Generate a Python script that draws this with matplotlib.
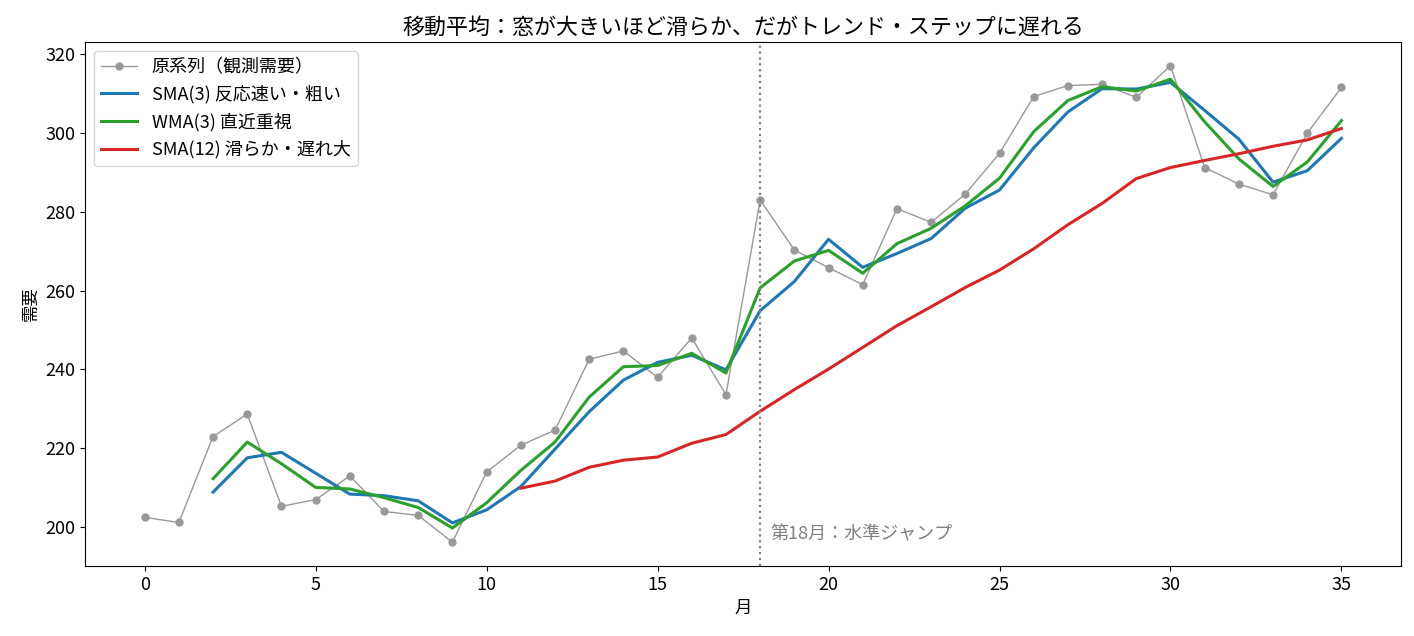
import matplotlib
matplotlib.use("Agg")
import matplotlib.pyplot as plt

plt.rcParams['font.family'] = ['Noto Sans CJK JP', 'DejaVu Sans']

# 月 (0..35)
months = list(range(36))

# 原系列（観測需要）
raw = [202.5, 201.2, 223.0, 228.7, 205.3, 207.0, 213.0, 204.0, 203.0, 196.2,
       214.0, 220.8, 224.6, 242.6, 244.7, 238.0, 248.0, 233.6, 283.0, 270.3,
       265.8, 261.5, 280.8, 277.3, 284.5, 294.8, 309.2, 312.0, 312.3, 309.0,
       317.0, 291.2, 287.0, 284.3, 299.9, 311.5]

# SMA(3), 月2から
sma3_x = list(range(2, 36))
sma3 = [208.9, 217.6, 219.0, 213.7, 208.4, 208.0, 206.7, 201.1, 204.4, 210.3,
        219.8, 229.3, 237.3, 241.8, 243.6, 239.9, 254.9, 262.3, 273.0, 265.9,
        269.4, 273.2, 280.9, 285.5, 296.2, 305.3, 311.2, 311.1, 312.8, 305.7,
        298.4, 287.5, 290.4, 298.6]

# WMA(3), 月2から
wma3_x = list(range(2, 36))
wma3 = [212.3, 221.6, 216.1, 210.1, 209.7, 207.5, 205.0, 199.8, 206.2, 214.4,
        221.6, 233.0, 240.7, 241.0, 244.1, 239.1, 260.7, 267.5, 270.2, 264.4,
        271.9, 275.8, 281.5, 288.5, 300.3, 308.2, 311.7, 310.6, 313.6, 302.8,
        293.4, 286.4, 292.6, 303.1]

# SMA(12), 月11から
sma12_x = list(range(11, 36))
sma12 = [209.9, 211.7, 215.2, 217.0, 217.8, 221.3, 223.5, 229.4, 234.9, 240.1,
         245.6, 251.1, 255.9, 260.8, 265.2, 270.6, 276.7, 282.1, 288.4, 291.2,
         293.0, 294.7, 296.6, 298.2, 301.1]

jump_month = 18

fig, ax = plt.subplots(figsize=(14.14, 6.36), dpi=100)
fig.subplots_adjust(left=0.060, right=0.991, top=0.934, bottom=0.110)

ax.plot(months, raw, marker='o', markersize=5, linewidth=1, color='#999999',
        label='原系列（観測需要）')
ax.plot(sma3_x, sma3, linewidth=2.2, color='#1f77b4', label='SMA(3) 反応速い・粗い')
ax.plot(wma3_x, wma3, linewidth=2.2, color='#2ca02c', label='WMA(3) 直近重視')
ax.plot(sma12_x, sma12, linewidth=2.2, color='#d62728', label='SMA(12) 滑らか・遅れ大')

ax.axvline(jump_month, color='gray', linestyle=':', linewidth=1.6)
ax.text(jump_month + 0.3, 196, '第18月：水準ジャンプ', color='gray', fontsize=13,
        va='bottom')

ax.set_title('移動平均：窓が大きいほど滑らか、だがトレンド・ステップに遅れる', fontsize=15.8)
ax.set_xlabel('月', fontsize=12.5)
ax.set_ylabel('需要', fontsize=12.5)
ax.tick_params(labelsize=13)
ax.legend(loc='upper left', fontsize=13)

plt.savefig('out.png', dpi=100)
